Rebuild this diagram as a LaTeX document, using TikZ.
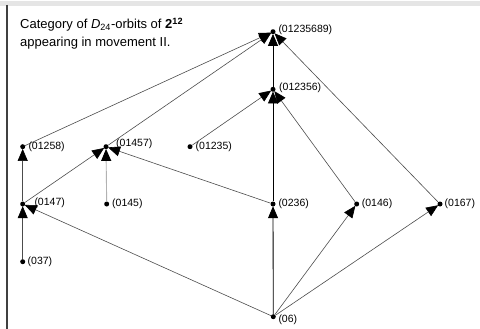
\documentclass[tikz,border=0pt]{standalone}
\usepackage{fontspec}
\setmainfont{Liberation Sans}
\usetikzlibrary{arrows.meta}
\begin{document}
\begin{tikzpicture}[x=1pt,y=-1pt,
  dot/.style={circle,fill=black,inner sep=0pt,minimum size=5pt},
  lbl/.style={anchor=west,inner sep=0pt,font=\fontsize{10.5}{12}\selectfont},
  tip/.style={-{Triangle[length=12pt,width=10pt,color=black]}},
  edge/.style={tip,draw=black!70,line width=0.6pt,shorten >=-0.5pt},
  faint/.style={tip,draw=black!30,line width=0.9pt,shorten >=-0.5pt},
  axis/.style={tip,draw=black,line width=0.85pt,shorten >=-0.5pt}
]
\useasboundingbox (0,0) rectangle (480,329);
% frame
\fill[black!10] (0,1.5) rectangle (480,6);
\draw[black!75,line width=1.3pt] (7,5) -- (7,329);
% title
\node[anchor=north west,inner sep=0pt,align=left,
  font=\fontsize{13}{18}\selectfont] (title) at (20,17.5)
  {Category of \textit{D}\textsubscript{24}-orbits of \textbf{2}\textsuperscript{\textbf{12}}\\appearing in movement II.};
% dots
\node[dot] (a)  at (273,31.7) {};
\node[dot] (b)  at (273,89.3) {};
\node[dot] (c)  at (22.7,146.7) {};
\node[dot] (d)  at (106,146.7) {};
\node[dot] (e)  at (190,146.7) {};
\node[dot] (f)  at (22.7,204) {};
\node[dot] (g)  at (106.7,204) {};
\node[dot] (h)  at (273,204) {};
\node[dot] (i)  at (356.7,204) {};
\node[dot] (j)  at (440,204) {};
\node[dot] (k)  at (22.7,261.7) {};
\node[dot] (l)  at (273.3,316.7) {};
% labels
\node[lbl] (la) at (278.3,29.5) {(01235689)};
\node[lbl] (lb) at (279,87.5) {(012356)};
\node[lbl] (lc) at (28.3,146.5) {(01258)};
\node[lbl] (ld) at (116,144) {(01457)};
\node[lbl] (le) at (195.5,146.5) {(01235)};
\node[lbl] (lf) at (34.3,203) {(0147)};
\node[lbl] (lg) at (112,204) {(0145)};
\node[lbl] (lh) at (278.3,204) {(0236)};
\node[lbl] (li) at (361.7,204) {(0146)};
\node[lbl] (lj) at (444.5,204) {(0167)};
\node[lbl] (lk) at (27.5,261.7) {(037)};
\node[lbl] (ll) at (278.3,319.5) {(06)};
% edges
\draw[edge] (k) -- (f);
\draw[edge] (f) -- (c);
\draw[edge] (f) -- (d);
\draw[faint] (g) -- (d);
\draw[edge] (h) -- (d);
\draw[edge] (l) -- (f);
\draw[axis] (l) -- (h);
\draw[edge] (l) -- (i);
\draw[edge] (l) -- (j);
\draw[axis] (h) -- (b);
\draw[edge] (i) -- (b);
\draw[edge] (e) -- (b);
\draw[axis] (b) -- (a);
\draw[edge] (j) -- (a);
\draw[edge] (c) -- (a);
\draw[edge] (d) -- (a);
\end{tikzpicture}
\end{document}
